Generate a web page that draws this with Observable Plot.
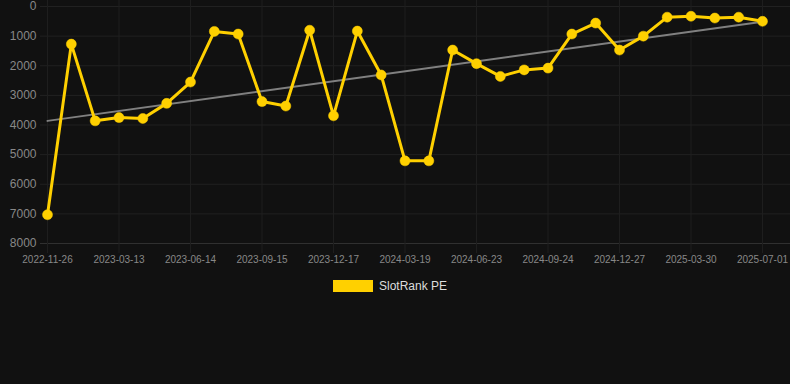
<!DOCTYPE html>
<html>
<head>
<meta charset="utf-8">
<script src="https://cdn.jsdelivr.net/npm/d3@7"></script>
<script src="https://cdn.jsdelivr.net/npm/@observablehq/plot@0.6"></script>
<style>
  html, body { margin: 0; padding: 0; background: #111111; }
  body { width: 790px; height: 384px; overflow: hidden; font-family: "Liberation Sans", Arial, sans-serif; }
  #chart svg { display: block; }
  .legend { display: flex; justify-content: center; align-items: center; margin-top: 9px; padding-right: 10px; }
  .legend .sw { width: 40px; height: 12px; background: #FFD000; margin-right: 6px; }
  .legend .lb { color: #dddddd; font-size: 12px; }
</style>
</head>
<body>
<div id="chart"></div>
<div class="legend"><span class="sw"></span><span class="lb">SlotRank PE</span></div>
<script>
const tickLabels = ["2022-11-26","2023-03-13","2023-06-14","2023-09-15","2023-12-17","2024-03-19","2024-06-23","2024-09-24","2024-12-27","2025-03-30","2025-07-01"];
const rankValues = [7030,1270,3860,3750,3780,3270,2550,840,930,3210,3360,800,3690,830,2310,5210,5210,1470,1930,2360,2140,2080,930,560,1470,1000,360,330,390,360,500];
const yTicks = [0,1000,2000,3000,4000,5000,6000,7000,8000];
const seriesName = "SlotRank PE";

const data = rankValues.map((v, i) => ({i, v}));
const xTicks = tickLabels.map((_, k) => k * 3);

const chart = Plot.plot({
  width: 790,
  height: 270,
  marginLeft: 47,
  marginRight: 28,
  marginTop: 6,
  marginBottom: 27,
  style: {background: "#111111", color: "#888888", fontFamily: "'Liberation Sans', Arial, sans-serif"},
  x: {domain: [0, rankValues.length - 1], axis: null, label: null},
  y: {domain: [0, 8000], reverse: true, axis: null, label: null},
  marks: [
    Plot.gridY(yTicks, {stroke: "#212121", strokeOpacity: 1, insetLeft: -7, insetRight: -28}),
    Plot.ruleY([8000], {stroke: "#303030", insetLeft: -7, insetRight: -28}),
    Plot.gridX(xTicks, {stroke: "#1e1e1e", strokeOpacity: 1, insetTop: -6, insetBottom: -10}),
    Plot.axisY(yTicks, {tickSize: 0, tickPadding: 11, fontSize: 12, fill: "#888888", label: null, tickFormat: d3.format("d")}),
    Plot.axisX(xTicks, {tickSize: 0, tickPadding: 12, fontSize: 10, fill: "#888888", label: null, tickFormat: i => tickLabels[i / 3]}),
    Plot.linearRegressionY(data, {x: "i", y: "v", ci: 0, stroke: "#808080", strokeWidth: 2}),
    Plot.line(data, {x: "i", y: "v", stroke: "#FFD000", strokeWidth: 3}),
    Plot.dot(data, {x: "i", y: "v", r: 5, fill: "#FFD000", stroke: "#FFD000", strokeWidth: 0.5})
  ]
});
document.getElementById("chart").appendChild(chart);
</script>
</body>
</html>
